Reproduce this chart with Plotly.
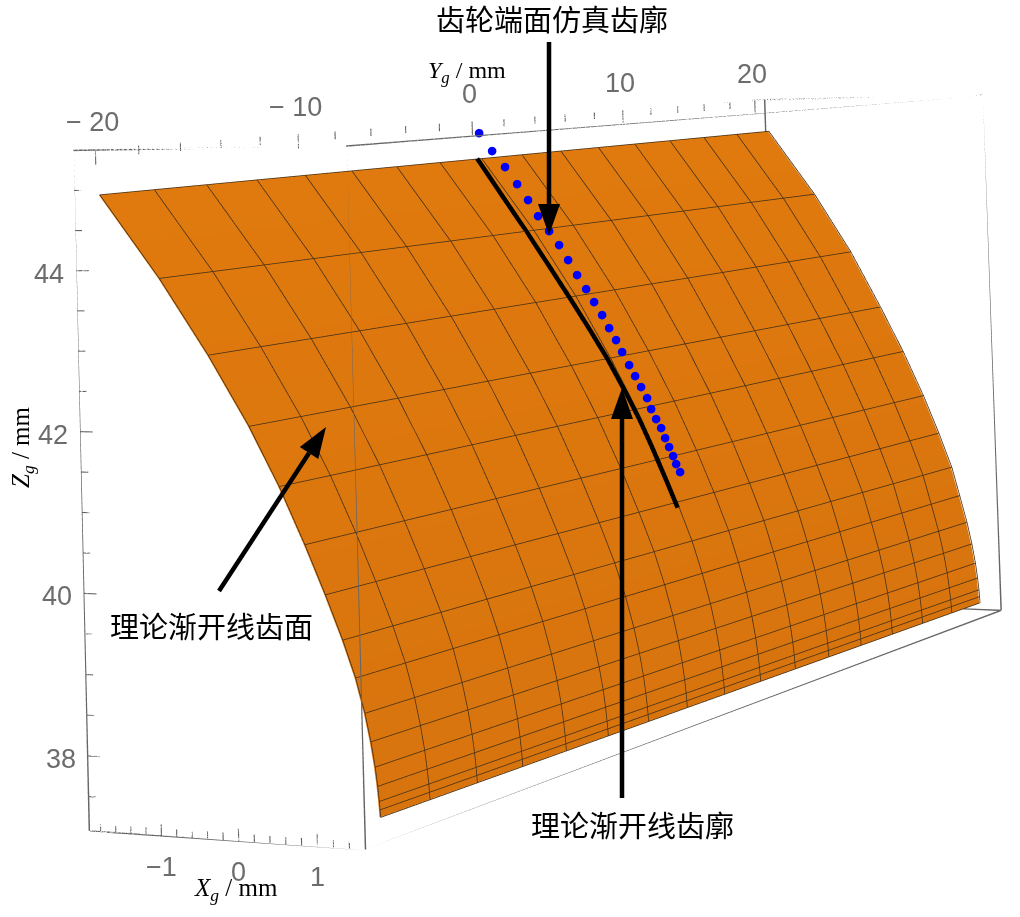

import plotly.graph_objects as go

# ---- data ----
x_range = [-1.95, 1.6]
y_range = [-21, 20.8]
z_range = [37.08, 45.5]
x_major = [-1, 0, 1]
y_major = [-20, -10, 0, 10, 20]
z_major = [38, 40, 42, 44]
x_minor = [-1.8, -1.6, -1.4, -1.2, -0.8, -0.6, -0.4, -0.2, 0.2, 0.4, 0.6, 0.8, 1.2, 1.4]
y_minor = [-18, -16, -14, -12, -8, -6, -4, -2, 2, 4, 6, 8, 12, 14, 16, 18]
z_minor = [37.5, 38.5, 39, 39.5, 40.5, 41, 41.5, 42.5, 43, 43.5, 44.5, 45]
tick_text_x = ['−1', '0', '1']
tick_text_y = ['− 20', '− 10', '0', '10', '20']
tick_text_z = ['38', '40', '42', '44']

# tooth flank: generating lines (Yg) and the profile (Xg, Zg) read at the near (Yg=-20) and far (Yg=20) edge
surf_y = [-20, -17.5, -15, -12.5, -10, -7.5, -5, -2.5, 0, 2.5, 5, 7.5, 10, 12.5, 15, 17.5, 20]
near_x = [-1.92, -1.15, -0.53, -0.02, 0.35, 0.66, 0.905, 1.11, 1.26, 1.365, 1.43, 1.475, 1.50, 1.515, 1.521, 1.526]
near_z = [44.92, 43.87, 42.92, 42.05, 41.32, 40.62, 40.02, 39.48, 39.03, 38.61, 38.27, 37.97, 37.74, 37.56, 37.46, 37.37]
far_x = [-1.75, -1.03, -0.47, -0.02, 0.32, 0.62, 0.845, 1.03, 1.14, 1.24, 1.305, 1.35, 1.375, 1.39, 1.396, 1.40]
far_z = [44.98, 43.92, 42.96, 42.05, 41.32, 40.60, 39.99, 39.44, 38.98, 38.55, 38.20, 37.89, 37.65, 37.46, 37.35, 37.25]

# theoretical involute profile (black)
theory_x = [-1.88, -1.52, -1.165, -0.815, -0.54, -0.29, -0.05, 0.2, 0.385, 0.54, 0.75, 0.89]
theory_z = [44.96, 44.41, 43.87, 43.32, 42.88, 42.47, 42.06, 41.58, 41.2, 40.84, 40.32, 39.96]

# simulated end-face profile (blue dots)
sim_x = [-1.85, -1.663, -1.476, -1.304, -1.148, -1.007, -0.85, -0.709, -0.583, -0.458, -0.332, -0.221, -0.11, -0.014,
         0.082, 0.164, 0.26, 0.342, 0.423, 0.505, 0.558, 0.625, 0.693, 0.746, 0.799, 0.852, 0.892, 0.945]
sim_z = [45.325, 45.059, 44.822, 44.571, 44.337, 44.102, 43.883, 43.68, 43.462, 43.245, 43.042, 42.855, 42.668, 42.481,
         42.309, 42.138, 41.952, 41.795, 41.639, 41.482, 41.326, 41.184, 41.057, 40.915, 40.788, 40.661, 40.548, 40.435]

# ---- page / lens-shift set-up ----
# The reference has a shifted perspective (vertical edges stay parallel while the
# horizon lies above the picture).  The scene's fixed 45 degree lens centres on the
# plot, so the plot is made taller and moved up behind the 917 px page window.
PAGE_W = 1020
PLOT_H = 3600
PLOT_TOP = -2050
eye = dict(x=3.316, y=-6.7518, z=0.6707)
center = dict(x=-0.2333, y=0.196, z=1.1594)
up = dict(x=0.0338, y=0, z=0.99943)
aspect = dict(x=0.4658, y=2.5463, z=1)


def px(v):
    return v / PAGE_W


def py(v):
    return 1 - (v - PLOT_TOP) / PLOT_H


fig = go.Figure()

# surface: ruled between the near and far edge readings
nx, ny = len(near_x), len(surf_y)
wt = [(v - surf_y[0]) / (surf_y[-1] - surf_y[0]) for v in surf_y]
X = [[near_x[i] + w * (far_x[i] - near_x[i]) for w in wt] for i in range(nx)]
Y = [list(surf_y) for i in range(nx)]
Z = [[near_z[i] + w * (far_z[i] - near_z[i]) for w in wt] for i in range(nx)]
fig.add_surface(x=X, y=Y, z=Z, surfacecolor=Z, colorscale=[[0, '#D8740E'], [1, '#E07A0E']], showscale=False,
                lighting=dict(ambient=1, diffuse=0, specular=0, fresnel=0), hoverinfo='skip')

# mesh
lift = 0.015
lx, ly, lz = [], [], []
for i in range(nx):
    lx += [v + lift for v in X[i]] + [None]
    ly += list(surf_y) + [None]
    lz += list(Z[i]) + [None]
for j in range(ny):
    lx += [X[i][j] + lift for i in range(nx)] + [None]
    ly += [surf_y[j]] * nx + [None]
    lz += [Z[i][j] for i in range(nx)] + [None]
fig.add_scatter3d(x=lx, y=ly, z=lz, mode='lines', line=dict(color='#4a3216', width=1.6), hoverinfo='skip')

# box
xa, xb = x_range
ya, yb = y_range
za, zb = z_range
bx, by, bz = [], [], []
for seg in [((xa, ya, zb), (xb, ya, zb)), ((xb, ya, zb), (xb, yb, zb)), ((xb, yb, zb), (xa, yb, zb)), ((xa, yb, zb), (xa, ya, zb)),
            ((xa, ya, za), (xb, ya, za)), ((xb, ya, za), (xb, yb, za)), ((xb, yb, za), (xa, yb, za)), ((xa, yb, za), (xa, ya, za)),
            ((xa, ya, za), (xa, ya, zb)), ((xb, ya, za), (xb, ya, zb)), ((xb, yb, za), (xb, yb, zb)), ((xa, yb, za), (xa, yb, zb))]:
    for pt in seg:
        bx.append(pt[0]); by.append(pt[1]); bz.append(pt[2])
    bx.append(None); by.append(None); bz.append(None)
fig.add_scatter3d(x=bx, y=by, z=bz, mode='lines', line=dict(color='#666666', width=3), hoverinfo='skip')

# ticks
tx, ty, tz = [], [], []
for v, d in [(v, 0.15) for v in x_major] + [(v, 0.09) for v in x_minor]:
    tx += [v, v, None]; ty += [ya, ya, None]; tz += [za, za + d, None]
for v, d in [(v, 0.17) for v in z_major] + [(v, 0.1) for v in z_minor]:
    tx += [xa, xa + d, None]; ty += [ya, ya, None]; tz += [v, v, None]
for v, d in [(v, 0.2) for v in y_major] + [(v, 0.11) for v in y_minor]:
    tx += [xa, xa, None]; ty += [v, v, None]; tz += [zb, zb - d, None]
fig.add_scatter3d(x=tx, y=ty, z=tz, mode='lines', line=dict(color='#606060', width=2.2), hoverinfo='skip')

# curves (the black one is moved slightly along the line of sight so the surface does not cut it)
fig.add_scatter3d(x=[a + 0.12 for a in theory_x], y=[-0.53] * len(theory_x), z=theory_z, mode='lines',
                  line=dict(color='black', width=9), hoverinfo='skip')
fig.add_scatter3d(x=sim_x, y=[0] * len(sim_x), z=sim_z, mode='markers',
                  marker=dict(color='#0000FF', size=5, line=dict(width=0)), hoverinfo='skip')

# tick labels attached to the scene coordinates
tickfont = dict(family='Liberation Sans', size=27, color='#6c6c6c')
scene_ann = []
for v, t in zip(x_major, tick_text_x):
    scene_ann.append(dict(x=v, y=ya, z=za, text=t, showarrow=False, yshift=-31, font=tickfont))
for v, t in zip(y_major, tick_text_y):
    scene_ann.append(dict(x=xa, y=v, z=zb, text=t, showarrow=False, xshift=-3, yshift=27, font=tickfont))
for v, t in zip(z_major, tick_text_z):
    scene_ann.append(dict(x=xa, y=ya, z=v, text=t, showarrow=False, xshift=-27, yshift=-3, font=tickfont))

# page annotations
ann = []
shapes = []


def text(t, x, y, size=29, fam='Noto Sans CJK SC', rot=0):
    ann.append(dict(text=t, x=px(x), y=py(y), xref='paper', yref='paper', showarrow=False,
                    font=dict(family=fam, size=size, color='black'), textangle=rot, xanchor='center', yanchor='middle'))


def arrow(tail_x, tail_y, tip_x, tip_y, length=31, half=11):
    dx, dy = tip_x - tail_x, tip_y - tail_y
    n = (dx * dx + dy * dy) ** 0.5
    ux, uy = dx / n, dy / n
    bx_, by_ = tip_x - ux * length, tip_y - uy * length
    shapes.append(dict(type='line', xref='paper', yref='paper', x0=px(tail_x), y0=py(tail_y), x1=px(bx_), y1=py(by_),
                       line=dict(color='black', width=4.5), layer='above'))
    path = 'M %f %f L %f %f L %f %f Z' % (px(tip_x), py(tip_y), px(bx_ - uy * half), py(by_ + ux * half),
                                          px(bx_ + uy * half), py(by_ - ux * half))
    shapes.append(dict(type='path', xref='paper', yref='paper', path=path, fillcolor='black',
                       line=dict(color='black', width=0), layer='above'))


text('齿轮端面仿真齿廓', 552, 18)
text('理论渐开线齿面', 211, 625)
text('理论渐开线齿廓', 632, 824)
text('<i>Y</i><sub><i>g</i></sub> / mm', 467, 72, 24, 'Liberation Serif')
text('<i>X</i><sub><i>g</i></sub> / mm', 236, 889, 25, 'Liberation Serif')
text('<i>Z</i><sub><i>g</i></sub> / mm', 22, 447, 25, 'Liberation Serif', rot=-90)
arrow(549, 42, 549, 235)
arrow(622, 798, 622, 388)
arrow(219, 591, 326, 427)

hidden = dict(visible=False)
fig.update_layout(
    width=PAGE_W, height=PLOT_H, margin=dict(l=0, r=0, t=0, b=0), paper_bgcolor='white', showlegend=False,
    annotations=ann, shapes=shapes,
    scene=dict(domain=dict(x=[0, 1], y=[0, 1]), aspectmode='manual', aspectratio=aspect, dragmode='orbit',
               camera=dict(eye=eye, center=center, up=up, projection=dict(type='perspective')),
               xaxis=dict(hidden, range=x_range), yaxis=dict(hidden, range=y_range), zaxis=dict(hidden, range=z_range),
               annotations=scene_ann))
post = ("var d=document.getElementById('{plot_id}');d.style.position='fixed';d.style.left='0px';d.style.top='%dpx';"
        "document.body.style.margin='0';document.documentElement.style.overflow='hidden';" % PLOT_TOP)
fig.write_html("out.html", post_script=post, config=dict(displayModeBar=False))
